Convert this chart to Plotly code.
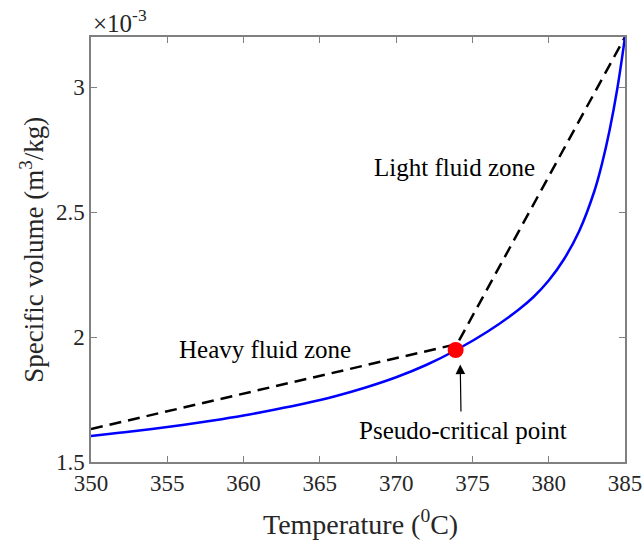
import plotly.graph_objects as go

# Specific volume of water along the isobar (values in m^3/kg)
temp_c = [350, 352, 354, 356, 358, 360, 362, 364, 366, 368, 370, 372,
          374, 376, 378, 379, 380, 381, 382, 383, 383.5, 384, 384.5, 385]
spec_vol = [1.604e-3, 1.618e-3, 1.632e-3, 1.648e-3, 1.666e-3, 1.686e-3,
            1.709e-3, 1.734e-3, 1.763e-3, 1.798e-3, 1.839e-3, 1.889e-3,
            1.950e-3, 2.022e-3, 2.108e-3, 2.160e-3, 2.226e-3, 2.311e-3,
            2.424e-3, 2.585e-3, 2.695e-3, 2.830e-3, 2.995e-3, 3.200e-3]

# Two-zone linear approximation (heavy / light fluid)
zone_temp = [350, 374, 385]
zone_vol = [1.632e-3, 1.972e-3, 3.200e-3]

# Pseudo-critical point
pc_temp = [373.9]
pc_vol = [1.948e-3]

x_ticks = [350, 355, 360, 365, 370, 375, 380, 385]
y_ticks = [1.5e-3, 2.0e-3, 2.5e-3, 3.0e-3]
y_tick_text = ["1.5", "2", "2.5", "3"]

FONT = "Liberation Serif, Times New Roman, serif"
AXIS_COLOR = "#808080"
TEXT_COLOR = "#262626"

fig = go.Figure()

fig.add_trace(go.Scatter(
    x=zone_temp, y=zone_vol, mode="lines",
    line=dict(color="black", width=2.5, dash="12px,7px"),
    showlegend=False, hoverinfo="skip",
))
fig.add_trace(go.Scatter(
    x=temp_c, y=spec_vol, mode="lines",
    line=dict(color="#0000ff", width=2.5, shape="spline", smoothing=1.0),
    showlegend=False,
))
fig.add_trace(go.Scatter(
    x=pc_temp, y=pc_vol, mode="markers",
    marker=dict(color="#ff0000", size=16, line=dict(width=0)),
    showlegend=False,
))

axis_common = dict(
    showline=True, linecolor=AXIS_COLOR, linewidth=1.5, mirror="ticks",
    ticks="inside", ticklen=6, tickwidth=1, tickcolor=AXIS_COLOR,
    showgrid=False, zeroline=False, automargin=False,
    tickfont=dict(family=FONT, size=23, color=TEXT_COLOR),
)

fig.update_xaxes(range=[350, 385], tickvals=x_ticks, **axis_common)
fig.update_yaxes(range=[1.5e-3, 3.2e-3], tickvals=y_ticks,
                 ticktext=y_tick_text, **axis_common)

ann_font = dict(family=FONT, size=25, color="black")

# Zone labels
fig.add_annotation(text="Heavy fluid zone", x=361.4, y=1.952e-3,
                   xref="x", yref="y", showarrow=False, font=ann_font)
fig.add_annotation(text="Light fluid zone", x=373.85, y=2.68e-3,
                   xref="x", yref="y", showarrow=False, font=ann_font)

# Pseudo-critical point label with an arrow pointing at the marker
fig.add_annotation(text="Pseudo-critical point", x=374.4, y=1.628e-3,
                   xref="x", yref="y", showarrow=False, font=ann_font)
fig.add_annotation(x=374.2, y=1.89e-3, xref="x", yref="y",
                   ax=374.25, ay=1.696e-3, axref="x", ayref="y",
                   showarrow=True, arrowhead=2, arrowsize=1.6,
                   arrowwidth=1.2, arrowcolor="black", text="")

# Axis exponent and axis titles
fig.add_annotation(text="×10<sup>-3</sup>", x=0, y=1, xref="paper",
                   yref="paper", xanchor="left", yanchor="bottom",
                   showarrow=False, yshift=-2,
                   font=dict(family=FONT, size=25, color=TEXT_COLOR))
fig.add_annotation(text="Temperature (<sup>0</sup>C)", x=0.505, y=-0.142,
                   xref="paper", yref="paper", xanchor="center",
                   yanchor="middle", showarrow=False,
                   font=dict(family=FONT, size=28, color=TEXT_COLOR))
fig.add_annotation(text="Specific volume (m<sup>3</sup>/kg)", x=-0.112,
                   y=0.5, xref="paper", yref="paper", xanchor="center",
                   yanchor="middle", textangle=-90, showarrow=False,
                   font=dict(family=FONT, size=27, color=TEXT_COLOR))

fig.update_layout(
    width=644, height=546,
    margin=dict(l=91, r=19, t=37, b=84),
    paper_bgcolor="white", plot_bgcolor="white",
)

fig.write_html("out.html")
